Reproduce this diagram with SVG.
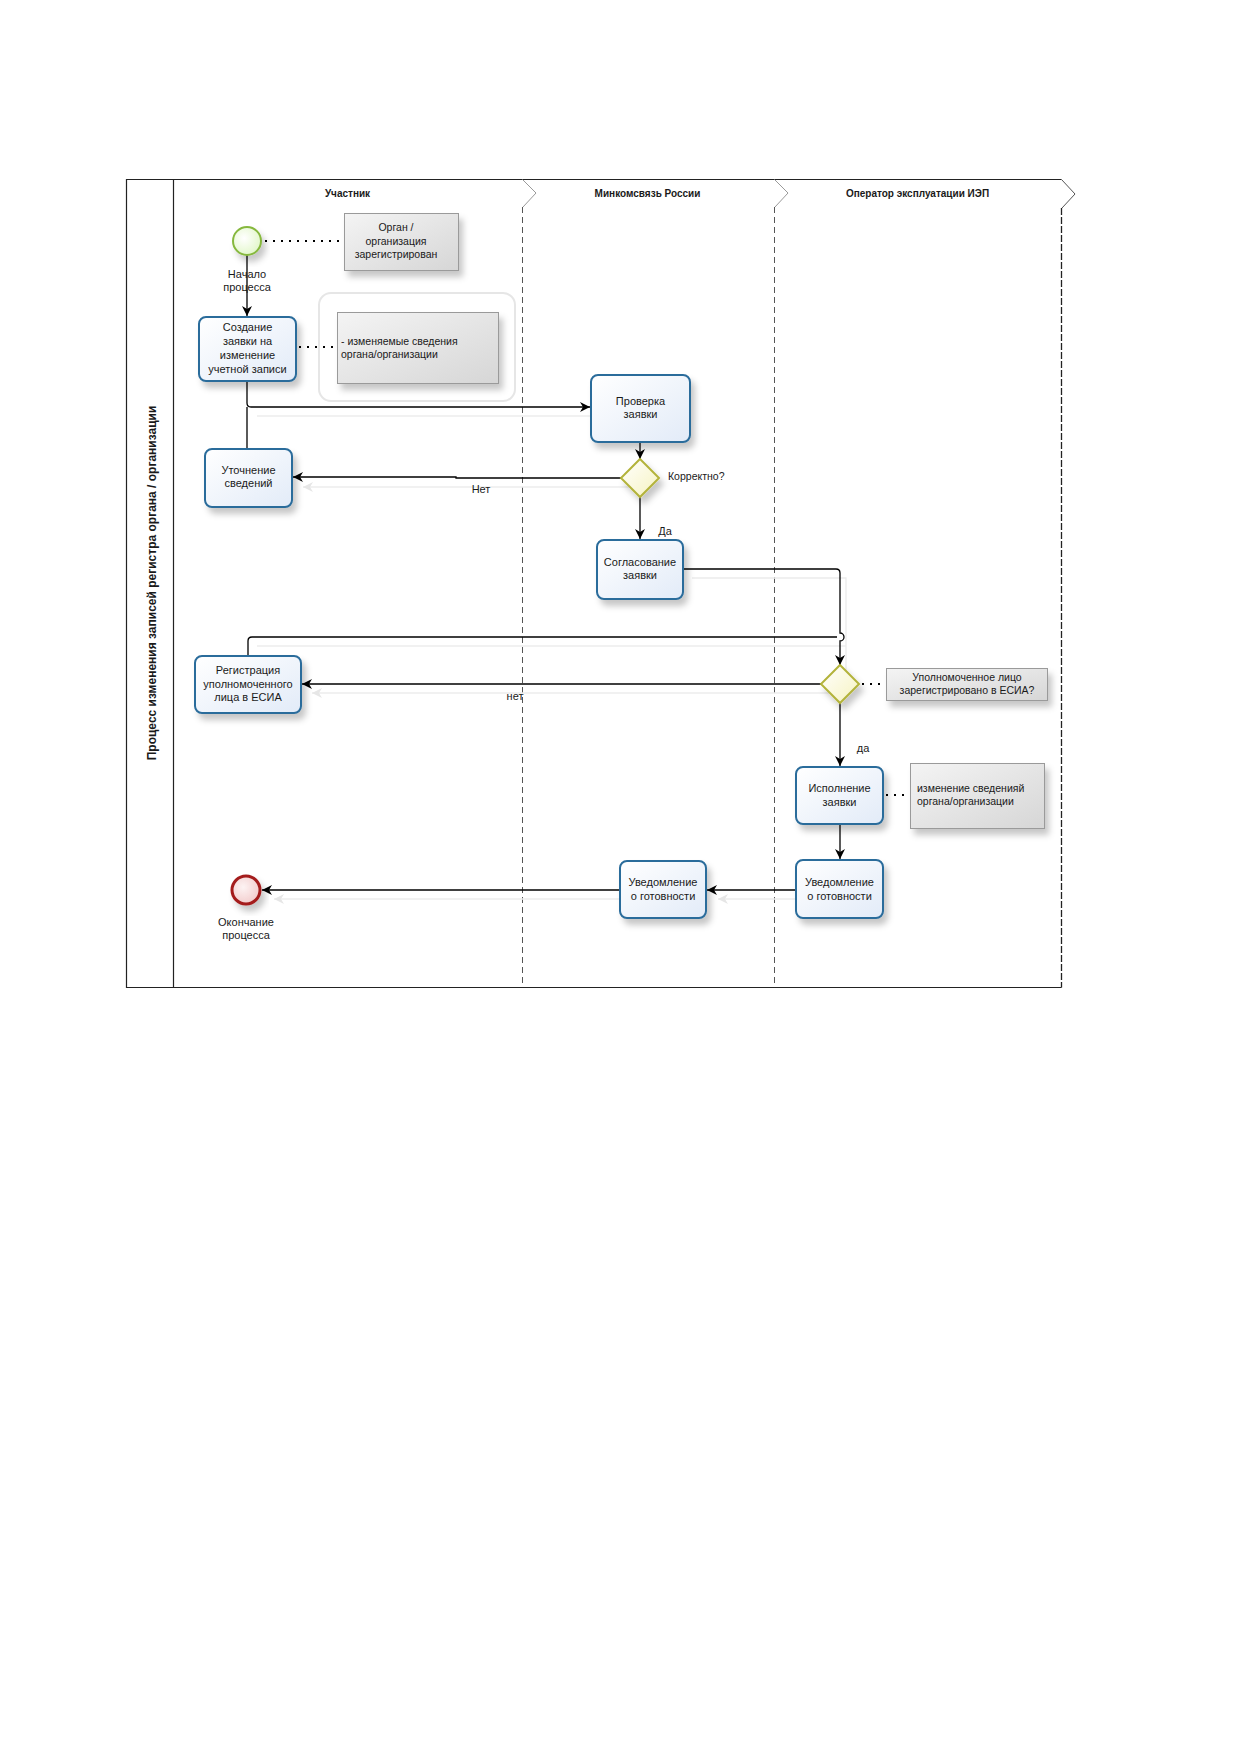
<svg xmlns="http://www.w3.org/2000/svg" width="1239" height="1752" viewBox="0 0 1239 1752">
<style>
text{font-family:"Liberation Sans",Arial,sans-serif;fill:#1a1a1a}
.t{font-size:11px;text-anchor:middle}
.lane{font-size:10px;font-weight:bold;text-anchor:middle}
.ann{font-size:10.5px}
.task{fill:url(#gTask);stroke:#2b6c9b;stroke-width:2}
.gw{fill:url(#gGw);stroke:#b3b33a;stroke-width:2}
.note{fill:url(#gNote);stroke:#9a9a9a;stroke-width:1}
.flow{fill:none;stroke:#000;stroke-width:1.3}
.assoc{fill:none;stroke:#000;stroke-width:2;stroke-dasharray:2 6}
.ghost{fill:none;stroke:#ececec;stroke-width:1.3}
.div{fill:none;stroke:#555;stroke-width:1;stroke-dasharray:6 4}
.chev{fill:none;stroke:#9a9a9a;stroke-width:1}
</style>
<defs>
<linearGradient id="gTask" x1="0" y1="0" x2="1" y2="1"><stop offset="0" stop-color="#ffffff"/><stop offset="1" stop-color="#e2ebf8"/></linearGradient>
<linearGradient id="gGw" x1="0" y1="0" x2="1" y2="1"><stop offset="0" stop-color="#ffffff"/><stop offset="1" stop-color="#f6f3c0"/></linearGradient>
<linearGradient id="gNote" x1="0" y1="0" x2="1" y2="1"><stop offset="0" stop-color="#f4f4f4"/><stop offset="1" stop-color="#d6d6d6"/></linearGradient>
<radialGradient id="gStart" cx="0.4" cy="0.4" r="0.7"><stop offset="0" stop-color="#ffffff"/><stop offset="1" stop-color="#dff6c4"/></radialGradient>
<radialGradient id="gEnd" cx="0.4" cy="0.4" r="0.7"><stop offset="0" stop-color="#fdf3f3"/><stop offset="1" stop-color="#f1c8c8"/></radialGradient>
<filter id="sh" x="-20%" y="-20%" width="150%" height="160%"><feDropShadow dx="4" dy="6" stdDeviation="3" flood-color="#000" flood-opacity="0.22"/></filter>
<marker id="arr" viewBox="0 0 10 10" refX="10" refY="5" markerWidth="10" markerHeight="10" markerUnits="userSpaceOnUse" orient="auto"><path d="M0,0 L10,5 L0,10 L3,5 Z" fill="#000"/></marker>
<marker id="arrg" viewBox="0 0 10 10" refX="10" refY="5" markerWidth="10" markerHeight="10" markerUnits="userSpaceOnUse" orient="auto"><path d="M0,0 L10,5 L0,10 L3,5 Z" fill="#e6e6e6"/></marker>
</defs>

<g id="pool">
<path d="M1061.5,179.5 L126.5,179.5 L126.5,987.5 L1061.5,987.5" fill="none" stroke="#222" stroke-width="1.2"/>
<line x1="173.5" y1="179.5" x2="173.5" y2="987.5" stroke="#222" stroke-width="1.2"/>
<path d="M1061.5,179.5 L1075,194 L1062,208" fill="none" stroke="#555" stroke-width="1"/>
<line x1="1061.5" y1="208" x2="1061.5" y2="987.5" stroke="#222" stroke-width="1.3" stroke-dasharray="7 2"/>
<path class="chev" d="M522.5,179.5 L536,193 L523,207"/>
<line class="div" x1="522.5" y1="207" x2="522.5" y2="987"/>
<path class="chev" d="M774.5,179.5 L788,193 L775,207"/>
<line class="div" x1="774.5" y1="207" x2="774.5" y2="987"/>
<text class="lane" x="347.5" y="196.5">Участник</text>
<text class="lane" x="647.5" y="196.5">Минкомсвязь России</text>
<text class="lane" x="917.5" y="196.5">Оператор эксплуатации ИЭП</text>
<text x="0" y="0" transform="translate(155.5,583) rotate(-90)" style="font-size:12px;font-weight:bold;text-anchor:middle">Процесс изменения записей регистра органа / организации</text>
</g>

<g id="group-box">
<rect x="319" y="293" width="196" height="108" rx="12" fill="none" stroke="#e6e6e6" stroke-width="2"/>
</g>

<g id="connector-shadows">
<path class="ghost" d="M257,416 L598,416"/>
<path class="ghost" d="M629,487 L303,487" marker-end="url(#arrg)"/>
<path class="ghost" d="M692,578 L846,578 L846,675"/>
<path class="ghost" d="M257,646 L846,646"/>
<path class="ghost" d="M829,693 L312,693" marker-end="url(#arrg)"/>
<path class="ghost" d="M804,899 L718,899" marker-end="url(#arrg)"/>
<path class="ghost" d="M628,899 L274,899" marker-end="url(#arrg)"/>
</g>

<g id="connectors">
<path class="flow" d="M247,255 L247,316" marker-end="url(#arr)"/>
<path class="flow" d="M247,381 L247,403 Q247,407 251,407 L590,407" marker-end="url(#arr)"/>
<path class="flow" d="M247,449 L247,407"/>
<path class="flow" d="M640,442 L640,459" marker-end="url(#arr)"/>
<path class="flow" d="M621,478 L456,478 L456,477 L293,477" marker-end="url(#arr)"/>
<path class="flow" d="M640,497 L640,539" marker-end="url(#arr)"/>
<path class="flow" d="M683,569 L836,569 Q840,569 840,573 L840,633 A4,4 0 0 1 840,641 L840,665" marker-end="url(#arr)"/>
<path class="flow" d="M248,656 L248,641 Q248,637 252,637 L837,637"/>
<path class="flow" d="M821,684 L302,684" marker-end="url(#arr)"/>
<path class="flow" d="M840,703 L840,766" marker-end="url(#arr)"/>
<path class="flow" d="M840,824 L840,859" marker-end="url(#arr)"/>
<path class="flow" d="M796,890 L707,890" marker-end="url(#arr)"/>
<path class="flow" d="M620,890 L262,890" marker-end="url(#arr)"/>
<path class="assoc" d="M265,241 L344,241"/>
<path class="assoc" d="M299,347 L337,347"/>
<path class="assoc" d="M862,684 L886,684"/>
<path class="assoc" d="M886,795 L910,795"/>
<text class="t" x="481" y="493">Нет</text>
<text class="t" x="665" y="535">Да</text>
<text class="t" x="515" y="700">нет</text>
<text class="t" x="863" y="752">да</text>
</g>

<g id="start">
<circle cx="247" cy="241" r="14" fill="url(#gStart)" stroke="#86b83e" stroke-width="2" filter="url(#sh)"/>
<text class="t" x="247" y="278">Начало</text>
<text class="t" x="247" y="291">процесса</text>
</g>

<g id="note1">
<rect class="note" x="344.5" y="213.5" width="114" height="57" filter="url(#sh)"/>
<text class="ann" x="396" y="231" text-anchor="middle">Орган /</text>
<text class="ann" x="396" y="245" text-anchor="middle">организация</text>
<text class="ann" x="396" y="258" text-anchor="middle">зарегистрирован</text>
</g>

<g id="task-create">
<rect class="task" x="199" y="317" width="97" height="64" rx="7" filter="url(#sh)"/>
<text class="t" x="247.5" y="331">Создание</text>
<text class="t" x="247.5" y="345">заявки на</text>
<text class="t" x="247.5" y="359">изменение</text>
<text class="t" x="247.5" y="373">учетной записи</text>
</g>

<g id="note2">
<rect class="note" x="337.5" y="312.5" width="161" height="71" filter="url(#sh)"/>
<text class="ann" x="341" y="345">- изменяемые сведения</text>
<text class="ann" x="341" y="358">органа/организации</text>
</g>

<g id="task-check">
<rect class="task" x="591" y="375" width="99" height="67" rx="7" filter="url(#sh)"/>
<text class="t" x="640.5" y="405">Проверка</text>
<text class="t" x="640.5" y="418">заявки</text>
</g>

<g id="gateway-correct">
<path class="gw" d="M640,459 L659,478 L640,497 L621,478 Z" filter="url(#sh)"/>
<text class="ann" x="668" y="480">Корректно?</text>
</g>

<g id="task-clarify">
<rect class="task" x="205" y="449" width="87" height="58" rx="7" filter="url(#sh)"/>
<text class="t" x="248.5" y="474">Уточнение</text>
<text class="t" x="248.5" y="487">сведений</text>
</g>

<g id="task-approve">
<rect class="task" x="597" y="540" width="86" height="59" rx="7" filter="url(#sh)"/>
<text class="t" x="640" y="566">Согласование</text>
<text class="t" x="640" y="579">заявки</text>
</g>

<g id="gateway-registered">
<path class="gw" d="M840,665 L859,684 L840,703 L821,684 Z" filter="url(#sh)"/>
</g>

<g id="note3">
<rect class="note" x="886.5" y="668.5" width="161" height="32" filter="url(#sh)"/>
<text class="ann" x="967" y="681" text-anchor="middle">Уполномоченное лицо</text>
<text class="ann" x="967" y="694" text-anchor="middle">зарегистрировано в ЕСИА?</text>
</g>

<g id="task-register">
<rect class="task" x="195" y="656" width="106" height="57" rx="7" filter="url(#sh)"/>
<text class="t" x="248" y="674">Регистрация</text>
<text class="t" x="248" y="688">уполномоченного</text>
<text class="t" x="248" y="701">лица в ЕСИА</text>
</g>

<g id="task-execute">
<rect class="task" x="796" y="767" width="87" height="57" rx="7" filter="url(#sh)"/>
<text class="t" x="839.5" y="792">Исполнение</text>
<text class="t" x="839.5" y="806">заявки</text>
</g>

<g id="note4">
<rect class="note" x="910.5" y="763.5" width="134" height="65" filter="url(#sh)"/>
<text class="ann" x="917" y="792">изменение сведенияй</text>
<text class="ann" x="917" y="805">органа/организации</text>
</g>

<g id="task-notify-op">
<rect class="task" x="796" y="860" width="87" height="58" rx="7" filter="url(#sh)"/>
<text class="t" x="839.5" y="886">Уведомление</text>
<text class="t" x="839.5" y="900">о готовности</text>
</g>

<g id="task-notify-mk">
<rect class="task" x="620" y="861" width="86" height="57" rx="7" filter="url(#sh)"/>
<text class="t" x="663" y="886">Уведомление</text>
<text class="t" x="663" y="900">о готовности</text>
</g>

<g id="end">
<circle cx="246" cy="890" r="14" fill="url(#gEnd)" stroke="#a41d1d" stroke-width="3" filter="url(#sh)"/>
<text class="t" x="246" y="926">Окончание</text>
<text class="t" x="246" y="939">процесса</text>
</g>
</svg>
